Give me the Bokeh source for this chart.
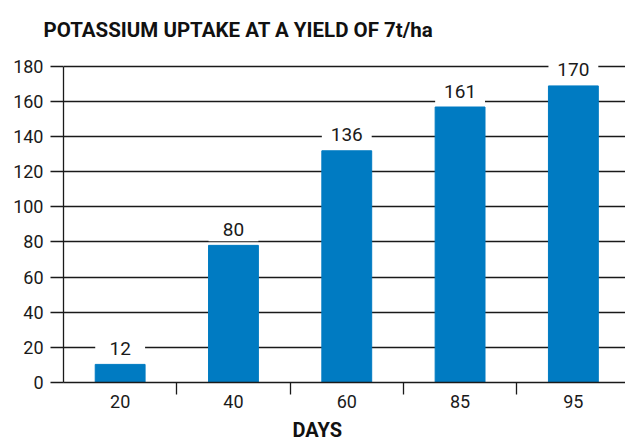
from bokeh.plotting import figure
from bokeh.models import Range1d, FixedTicker, Title, ColumnDataSource
from bokeh.core.properties import value
from bokeh.embed import file_html
from bokeh.resources import INLINE

# ---- data ----
days = ["20", "40", "60", "85", "95"]
uptake_labels = ["12", "80", "136", "161", "170"]
bar_heights = [10.3, 78, 131.8, 156.7, 168.7]
y_ticks = [0, 20, 40, 60, 80, 100, 120, 140, 160, 180]
title_text = "POTASSIUM UPTAKE AT A YIELD OF 7t/ha"
x_title = "DAYS"

BAR_COLOR = "#007bc2"
FONT = "Roboto"
INK = "#1a1a1a"

xs = list(range(len(days)))
label_y = [h + 9.1 for h in bar_heights]
src = ColumnDataSource(dict(x=xs, top=bar_heights, ly=label_y, txt=uptake_labels))

p = figure(width=625, height=446, output_backend="svg", toolbar_location=None,
           x_range=Range1d(-0.5, 4.46), y_range=Range1d(0, 186),
           min_border_left=63, min_border_right=0, min_border_top=55, min_border_bottom=64)
p.outline_line_color = None
p.background_fill_color = "white"
p.border_fill_color = "white"

# grid
p.xgrid.grid_line_color = None
p.ygrid.grid_line_color = INK
p.ygrid.grid_line_width = 1.3
p.ygrid.ticker = FixedTicker(ticks=y_ticks)

# bars
p.vbar(x="x", top="top", bottom=0, width=0.44, color=BAR_COLOR, source=src)
# label boxes
p.rect(x="x", y="ly", width=0.44, height=24, height_units="screen",
       fill_color="white", line_color=None, source=src)
p.text(x="x", y="ly", text="txt", text_align="center", text_baseline="middle",
       text_font=value(FONT), text_font_size="19px", text_color=INK, source=src)

# y axis
ya = p.yaxis[0]
ya.ticker = FixedTicker(ticks=y_ticks)
ya.bounds = (0, 180)
ya.axis_line_color = INK
ya.axis_line_width = 1.3
ya.major_tick_line_color = INK
ya.major_tick_line_width = 1.3
ya.major_tick_in = 0
ya.major_tick_out = 13
ya.minor_tick_line_color = None
ya.major_label_standoff = 7
ya.major_label_text_font = FONT
ya.major_label_text_font_size = "18px"
ya.major_label_text_color = INK

# x axis
xa = p.xaxis[0]
xa.ticker = FixedTicker(ticks=xs, minor_ticks=[0.5, 1.5, 2.5, 3.5])
xa.major_label_overrides = {i: d for i, d in zip(xs, days)}
xa.axis_line_color = INK
xa.axis_line_width = 1.3
xa.major_tick_line_color = None
xa.major_tick_in = 0
xa.major_tick_out = 0
xa.minor_tick_line_color = INK
xa.minor_tick_line_width = 1.3
xa.minor_tick_in = 0
xa.minor_tick_out = 12
xa.major_label_standoff = 0
xa.major_label_text_font = FONT
xa.major_label_text_font_size = "18px"
xa.major_label_text_color = INK

# titles
p.add_layout(Title(text=title_text, align="left", offset=-20, standoff=28,
                   text_font=FONT, text_font_style="bold", text_font_size="20.5px",
                   text_color="#111111"), "above")
p.add_layout(Title(text=x_title, align="left", offset=229, standoff=10,
                   text_font=FONT, text_font_style="bold", text_font_size="20px",
                   text_color="#111111"), "below")

open("out.html", "w").write(file_html(p, INLINE))
